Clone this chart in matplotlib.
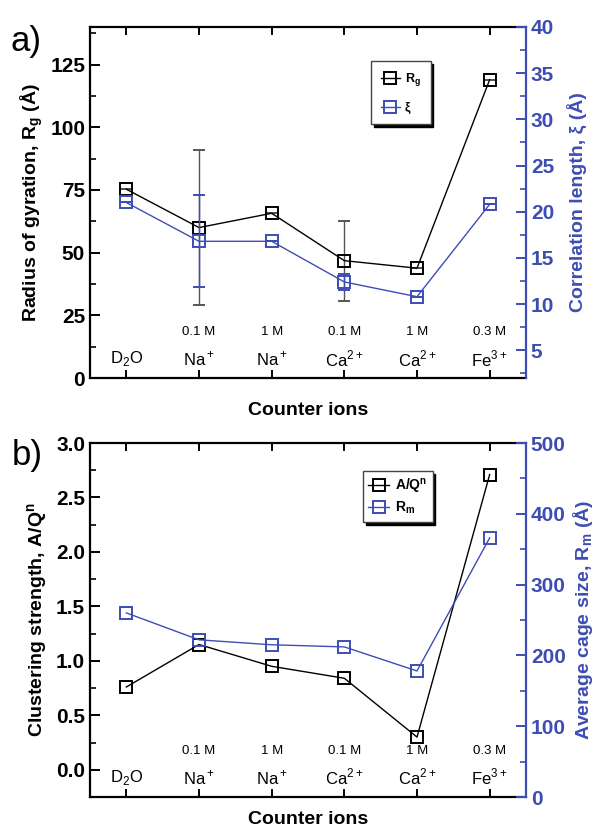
import matplotlib
matplotlib.use('Agg')
import matplotlib.pyplot as plt
from matplotlib.ticker import MultipleLocator
import matplotlib.transforms as mtransforms

plt.rcParams['font.family'] = ['Liberation Sans', 'DejaVu Sans']
plt.rcParams['mathtext.fontset'] = 'custom'
plt.rcParams['mathtext.rm'] = 'Liberation Sans'
plt.rcParams['mathtext.bf'] = 'Liberation Sans:bold'

# data
concs = ['', '0.1 M', '1 M', '0.1 M', '1 M', '0.3 M']
ions = ['D$_2$O', 'Na$^+$', 'Na$^+$', 'Ca$^{2+}$', 'Ca$^{2+}$', 'Fe$^{3+}$']
rg = [75.3, 60.0, 65.7, 46.8, 43.8, 119.0]
rg_err = [0, 31, 0, 16, 0, 0]
xi = [21.0, 16.8, 16.8, 12.4, 10.8, 20.8]
xi_err = [0, 5.0, 0, 0.9, 0, 0]
aq = [0.76, 1.15, 0.95, 0.84, 0.30, 2.71]
rm = [260, 222, 215, 212, 178, 366]

blue = '#3d4db3'
x = list(range(len(ions)))

fig = plt.figure(figsize=(5.94, 8.30), dpi=100)
W, H = 594, 830


def style(ax, ax2, xpad):
    for s in ['left', 'top', 'bottom']:
        ax.spines[s].set_linewidth(1.6)
    ax.spines['right'].set_visible(False)
    for s in ['left', 'top', 'bottom']:
        ax2.spines[s].set_visible(False)
    ax2.spines['right'].set_linewidth(1.6)
    ax2.spines['right'].set_color(blue)
    ax.set_xlim(-0.5, 5.5)
    ax.set_xticks(x)
    ax.tick_params(axis='x', direction='in', top=True, length=6, width=1.4,
                   labelbottom=False)
    ax.tick_params(axis='y', which='major', direction='in', length=7, width=1.4,
                   labelsize=15)
    ax.tick_params(axis='y', which='minor', direction='in', length=4, width=1.2)
    ax2.tick_params(axis='y', which='major', direction='in', length=7, width=1.4,
                    labelsize=15, colors=blue)
    ax2.tick_params(axis='y', which='minor', direction='in', length=4, width=1.2,
                    colors=blue)
    for lab in ax.get_yticklabels() + ax2.get_yticklabels():
        lab.set_fontweight('bold')
    trans = mtransforms.blended_transform_factory(ax.transData, ax.transAxes)
    for i in x:
        ax.text(i, 0.13, concs[i], transform=trans, ha='center', va='center',
                fontsize=9.5)
        ax.text(i, 0.055, ions[i], transform=trans, ha='center', va='center',
                fontsize=12)
    ax.set_xlabel('Counter ions', fontsize=14, fontweight='bold', labelpad=xpad)


legend_kw = dict(fancybox=False, shadow={'color': 'black', 'alpha': 1},
                 edgecolor='#444444', handlelength=1.5, handletextpad=0.4)

# panel a
ax = fig.add_axes([90 / W, 1 - 378 / H, 436 / W, 351 / H])
ax2 = ax.twinx()
eb1 = ax.errorbar(x, rg, yerr=rg_err, color='black', ecolor='#555555',
                  elinewidth=1, capsize=4, marker='s', mfc='none', ms=9,
                  mew=1.4, lw=1)
eb2 = ax2.errorbar(x, xi, yerr=xi_err, color=blue, ecolor=blue, elinewidth=1,
                   capsize=4, marker='s', mfc='none', ms=9, mew=1.4, lw=1)
ax.set_ylim(0, 140)
ax.yaxis.set_major_locator(MultipleLocator(25))
ax.yaxis.set_minor_locator(MultipleLocator(12.5))
ax2.set_ylim(2, 40)
ax2.yaxis.set_major_locator(MultipleLocator(5))
ax2.yaxis.set_minor_locator(MultipleLocator(2.5))
style(ax, ax2, 17)
ax.set_ylabel('Radius of gyration, R$_\\mathbf{g}$ (Å)', fontsize=14,
              fontweight='bold')
ax2.set_ylabel('Correlation length, ξ (Å)', fontsize=14, fontweight='bold',
               color=blue, labelpad=9)
ax.legend([eb1.lines[0], eb2.lines[0]], ['R$_\\mathbf{g}$', 'ξ'],
          loc='upper left', bbox_to_anchor=(0.63, 0.92),
          prop={'weight': 'bold', 'size': 9}, borderpad=0.8, labelspacing=1.1,
          **legend_kw)
fig.text(10 / W, 1 - 42 / H, 'a)', fontsize=25, va='center')

# panel b
bx = fig.add_axes([90 / W, 1 - 797 / H, 436 / W, 354 / H])
bx2 = bx.twinx()
l1, = bx.plot(x, aq, color='black', marker='s', mfc='none', ms=9, mew=1.4,
              lw=1)
l2, = bx2.plot(x, rm, color=blue, marker='s', mfc='none', ms=9, mew=1.4, lw=1)
bx.set_ylim(-0.25, 3.0)
bx.yaxis.set_major_locator(MultipleLocator(0.5))
bx.yaxis.set_minor_locator(MultipleLocator(0.25))
bx2.set_ylim(0, 500)
bx2.yaxis.set_major_locator(MultipleLocator(100))
bx2.yaxis.set_minor_locator(MultipleLocator(50))
style(bx, bx2, 10)
bx.set_yticks([0.0, 0.5, 1.0, 1.5, 2.0, 2.5, 3.0])
bx.set_yticklabels(['0.0', '0.5', '1.0', '1.5', '2.0', '2.5', '3.0'],
                   fontweight='bold')
bx.set_ylabel('Clustering strength, A/Q$^\\mathbf{n}$', fontsize=14,
              fontweight='bold')
bx2.set_ylabel('Average cage size, R$_\\mathbf{m}$ (Å)', fontsize=14,
               fontweight='bold', color=blue, labelpad=4)
bx.legend([l1, l2], ['A/Q$^\\mathbf{n}$', 'R$_\\mathbf{m}$'],
          loc='upper left', bbox_to_anchor=(0.61, 0.94),
          prop={'weight': 'bold', 'size': 10}, borderpad=0.4,
          labelspacing=0.3, **legend_kw)
fig.text(12 / W, 1 - 455 / H, 'b)', fontsize=25, va='center')

fig.savefig('out.png', dpi=100)
